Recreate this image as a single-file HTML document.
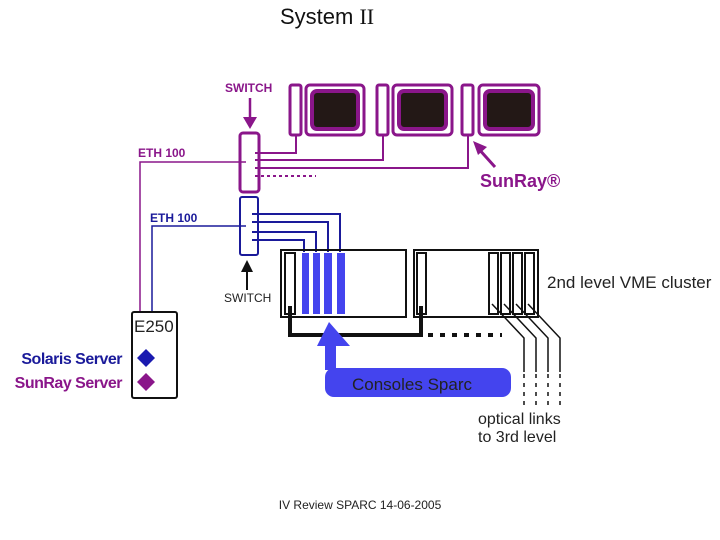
<!DOCTYPE html>
<html><head><meta charset="utf-8"><style>
html,body{margin:0;padding:0;background:#fff;}
svg{display:block;font-family:"Liberation Sans",sans-serif;}
</style></head><body>
<svg width="720" height="540" viewBox="0 0 720 540">
<text x="280" y="24" font-size="22" fill="#111">System <tspan font-family="Liberation Serif">II</tspan></text>

<!-- purple section -->
<g stroke="#8a168a" fill="none">
<text x="225" y="92" font-size="12" font-weight="bold" fill="#8a168a" stroke="none">SWITCH</text>
<line x1="250" y1="98" x2="250" y2="124" stroke-width="2.5"/>
<polygon points="243,117 257,117 250,129" fill="#8a168a" stroke="none"/>
<rect x="240" y="133" width="19" height="59" rx="3" stroke-width="3"/>
<rect x="290" y="85" width="11" height="50" rx="2" stroke-width="3"/>
<rect x="306" y="85" width="58" height="50" rx="4" stroke-width="3"/>
<rect x="312" y="91" width="46" height="38" rx="5" stroke-width="4" fill="#231816"/>
<rect x="377" y="85" width="11" height="50" rx="2" stroke-width="3"/>
<rect x="393" y="85" width="59" height="50" rx="4" stroke-width="3"/>
<rect x="399" y="91" width="47" height="38" rx="5" stroke-width="4" fill="#231816"/>
<rect x="462" y="85" width="11" height="50" rx="2" stroke-width="3"/>
<rect x="479" y="85" width="60" height="50" rx="4" stroke-width="3"/>
<rect x="485" y="91" width="48" height="38" rx="5" stroke-width="4" fill="#231816"/>
<polyline points="255,153 296,153 296,135" stroke-width="2"/>
<polyline points="255,160 383,160 383,135" stroke-width="2"/>
<polyline points="255,168 468,168 468,135" stroke-width="2"/>
<line x1="255" y1="176" x2="316" y2="176" stroke-width="2" stroke-dasharray="3,3"/>
<polyline points="246,162 140,162 140,312" stroke-width="1.5"/>
<text x="138" y="157" font-size="12" font-weight="bold" fill="#8a168a" stroke="none">ETH 100</text>
<line x1="495" y1="167" x2="477" y2="147" stroke-width="3"/>
<polygon points="473,141 487,147 478,155" fill="#8a168a" stroke="none"/>
<text x="480" y="187" font-size="18" font-weight="bold" fill="#8a168a" stroke="none">SunRay®</text>
</g>

<!-- blue section -->
<g stroke="#1a1a9a" fill="none" stroke-width="2">
<rect x="240" y="197" width="18" height="58" rx="2"/>
<polyline points="252,214 340,214 340,252"/>
<polyline points="252,222 328,222 328,252"/>
<polyline points="252,232 316,232 316,252"/>
<polyline points="252,240 304,240 304,252"/>
<polyline points="246,226 152,226 152,312" stroke-width="1.5"/>
<text x="150" y="222" font-size="12" font-weight="bold" fill="#1a1a9a" stroke="none">ETH 100</text>
</g>

<!-- crates -->
<g stroke="#111" fill="none" stroke-width="2">
<rect x="281" y="250" width="125" height="67"/>
<rect x="414" y="250" width="124" height="67"/>
<rect x="285" y="253" width="10" height="61"/>
<rect x="417" y="253" width="9" height="61"/>
<rect x="489" y="253" width="9" height="61"/>
<rect x="501" y="253" width="9" height="61"/>
<rect x="513" y="253" width="9" height="61"/>
<rect x="525" y="253" width="9" height="61"/>
<polyline points="290,306 290,335 421,335 421,306" stroke-width="4"/>
<line x1="428" y1="335" x2="502" y2="335" stroke-width="4" stroke-dasharray="5,7"/>
<polyline points="492,304 524,338 524,372" stroke-width="1.5"/>
<polyline points="504,304 536,338 536,372" stroke-width="1.5"/>
<polyline points="516,304 548,338 548,372" stroke-width="1.5"/>
<polyline points="528,304 560,338 560,372" stroke-width="1.5"/>
<g stroke-dasharray="4,5" stroke-width="1.5">
<line x1="524" y1="374" x2="524" y2="408"/><line x1="536" y1="374" x2="536" y2="408"/>
<line x1="548" y1="374" x2="548" y2="408"/><line x1="560" y1="374" x2="560" y2="408"/>
</g>
</g>
<g fill="#4444ee">
<rect x="302" y="253" width="7" height="61"/>
<rect x="313" y="253" width="7" height="61"/>
<rect x="324" y="253" width="8" height="61"/>
<rect x="337" y="253" width="8" height="61"/>
<polygon points="329,322 350,346 336,346 336,370 325,370 325,346 317,346"/>
<rect x="325" y="368" width="186" height="29" rx="9"/>
</g>
<text x="352" y="390" font-size="17" fill="#222">Consoles Sparc</text>

<text x="547" y="288" font-size="17" fill="#222">2nd level VME cluster</text>
<text x="478" y="424" font-size="16" fill="#222">optical links</text>
<text x="478" y="442" font-size="16" fill="#222">to 3rd level</text>

<line x1="247" y1="290" x2="247" y2="268" stroke="#111" stroke-width="2"/>
<polygon points="241,272 253,272 247,260" fill="#111"/>
<text x="224" y="302" font-size="12" fill="#222">SWITCH</text>

<rect x="132" y="312" width="45" height="86" rx="2" fill="none" stroke="#111" stroke-width="2"/>
<text x="134" y="332" font-size="17" fill="#222">E250</text>
<polygon points="146,349 155,358 146,367 137,358" fill="#1a1ab0"/>
<polygon points="146,373 155,382 146,391 137,382" fill="#8a168a"/>
<text x="122" y="364" font-size="16" font-weight="bold" fill="#1a1a9a" text-anchor="end" letter-spacing="-0.5">Solaris Server</text>
<text x="122" y="388" font-size="16" font-weight="bold" fill="#8a168a" text-anchor="end" letter-spacing="-0.5">SunRay Server</text>

<text x="360" y="509" font-size="12" fill="#222" text-anchor="middle">IV Review SPARC 14-06-2005</text>
</svg>
</body></html>
